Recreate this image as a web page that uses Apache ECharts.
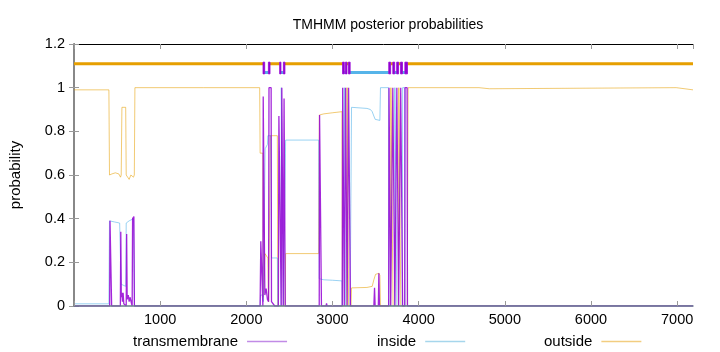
<!DOCTYPE html>
<html>
<head>
<meta charset="utf-8">
<script src="https://cdn.jsdelivr.net/npm/echarts@6/dist/echarts.min.js"></script>
<style>html,body{margin:0;padding:0;background:#fff}#c{width:720px;height:352px}</style>
</head>
<body>
<div id="c"></div>
<script>
// ---- data (residue position, probability) ----
const seqLength = 7184;
const xTicks = [1000, 2000, 3000, 4000, 5000, 6000, 7000];
const yTicks = [0, 0.2, 0.4, 0.6, 0.8, 1, 1.2];
const seriesNames = ['transmembrane', 'inside', 'outside'];

const transmembraneProb = [
  [1,0],[414,0],[418,0.39],[432,0.395],[437,0],[538,0],[543,0.34],[549,0.04],[556,0.06],[562,0.02],
  [570,0.06],[578,0.01],[606,0],[611,0.33],[617,0.03],[630,0.05],[640,0.02],[650,0.04],[675,0],
  [680,0.40],[695,0.41],[701,0],
  [2160,0],[2168,0.296],[2186,0.29],[2192,0],[2196,0.96],[2211,0.96],[2215,0.05],[2230,0.08],
  [2245,0.03],[2258,0.02],[2263,1.0],[2288,1.0],[2292,0.02],[2330,0],[2372,0],[2378,0.87],
  [2400,0.87],[2405,0],[2408,0],[2412,1.0],[2424,1.0],[2428,0],[2434,0],[2438,0.95],[2447,0.95],[2452,0],
  [2846,0],[2850,0.875],[2868,0.875],[2872,0],[2925,0],[2931,0.012],[2937,0],
  [3113,0],[3118,1.0],[3133,1.0],[3137,0],[3148,0],[3152,1.0],[3166,1.0],[3170,0],[3183,0],
  [3187,1.0],[3203,1.0],[3208,0],
  [3480,0],[3488,0.083],[3495,0],[3532,0],[3538,0.15],[3545,0],
  [3652,0],[3656,1],[3672,1],[3676,0],[3696,0],[3700,1],[3720,1],[3724,0],[3743,0],[3747,1],
  [3764,1],[3768,0],[3788,0],[3792,1],[3810,1],[3814,0],[3838,0],[3842,1],[3866,1],[3870,0],[7184,0]
];

const insideProb = [
  [1,0.01],[405,0.01],[412,0.39],[470,0.385],[530,0.38],[540,0.38],[546,0.1],[560,0.1],[600,0.09],
  [606,0.38],[640,0.39],[690,0.4],[698,0.4],[703,0],
  [2160,0],[2165,0.05],[2192,0.05],[2198,0.02],[2213,0.02],[2218,0.72],[2245,0.74],[2250,0.78],
  [2286,0.78],[2292,0.22],[2360,0.22],[2366,0],[2402,0],[2406,1.0],[2428,1.0],[2432,0],[2450,0],
  [2456,0.76],[2840,0.76],[2846,0.125],[2900,0.12],[3000,0.118],[3110,0.115],[3115,0],[3133,0],
  [3137,1.0],[3148,1.0],[3152,0],[3205,0],[3221,0.91],[3400,0.905],[3440,0.9],[3461,0.89],
  [3480,0.87],[3495,0.855],[3550,0.85],[3557,1.0],[3650,1.0],[3655,0],[3720,0],[3724,1],[3743,1],
  [3747,0],[3810,0],[3814,1],[3838,1],[3842,0],[3880,0],[7184,0]
];

const outsideProb = [
  [1,0.99],[405,0.99],[412,0.6],[440,0.605],[480,0.61],[520,0.605],[540,0.59],[548,0.6],[556,0.91],
  [600,0.91],[606,0.6],[625,0.6],[640,0.58],[660,0.6],[690,0.59],[700,0.6],[707,1.0],[1500,1.0],
  [2155,1.0],[2160,0.70],[2192,0.70],[2198,0.04],[2213,0.04],[2216,0.24],[2250,0.22],[2258,0.02],
  [2275,0.02],[2280,0.78],[2360,0.78],[2366,0],[2450,0],[2456,0.24],[2840,0.24],[2848,0.875],
  [2900,0.88],[3000,0.885],[3110,0.89],[3115,0],[3166,0],[3170,1.0],[3183,1.0],[3187,0],[3215,0],
  [3221,0.083],[3400,0.085],[3461,0.09],[3480,0.12],[3500,0.145],[3540,0.15],[3550,0.14],[3557,0],
  [3672,0],[3678,1],[3697,1],[3703,0],[3764,0],[3770,1],[3787,1],[3793,0],[3868,0],[3878,1.0],
  [4700,1.0],[4720,0.995],[4820,0.995],[4840,1.0],[6990,1.0],[7000,0.993],[7184,0.99]
];

// predicted topology segments [start, end]
const topoOutside = [[0,2194],[2275,2387],[2448,3117],[3168,3185],[3675,3700],[3767,3790],[3870,7184]];
const topoInside = [[2213,2256],[2402,2430],[3137,3150],[3205,3653],[3722,3745],[3812,3840]];
const topoTM = [[2194,2213],[2256,2275],[2387,2402],[2430,2448],[3117,3137],[3150,3168],[3185,3205],
  [3653,3675],[3700,3722],[3745,3767],[3790,3812],[3840,3870]];
const topoOutsideLevel = 1.11;
const topoInsideLevel = 1.07;

// ---- build ----
function segLine(segs, y) {
  const out = [];
  segs.forEach(s => { out.push([s[0], y], [s[1], y], [s[1], '-']); });
  return out;
}
const FONT = 'Liberation Sans, Arial, sans-serif';
const C_TM = '#9400D3', C_IN = '#56B4E9', C_OUT = '#E69F00';

const chart = echarts.init(document.getElementById('c'), null, {renderer: 'canvas'});
const axisCommon = {
  type: 'value', min: 0, max: seqLength, interval: 1000,
  splitLine: {show: false},
  axisTick: {show: true, inside: true, length: 5, lineStyle: {color: '#999'}},
};
const legendCommon = {
  top: 334, align: 'right', itemWidth: 40, itemHeight: 1.5, icon: 'rect', padding: 0,
  textStyle: {fontFamily: FONT, fontSize: 15, color: '#000', padding: [0, 4, 0, 0]},
  selectedMode: false
};
chart.setOption({
  animation: false,
  backgroundColor: '#fff',
  title: {
    text: 'TMHMM posterior probabilities', left: 383, top: 13, textAlign: 'center',
    textStyle: {fontFamily: FONT, fontSize: 14, fontWeight: 'normal', color: '#000'}
  },
  grid: {left: 73, right: 27, top: 44, bottom: 46, containLabel: false},
  legend: [
    Object.assign({}, legendCommon, {left: 133, data: [{name: seriesNames[0], itemStyle: {color: '#c18be6'}}]}),
    Object.assign({}, legendCommon, {left: 377, data: [{name: seriesNames[1], itemStyle: {color: '#a6d6ec'}}]}),
    Object.assign({}, legendCommon, {left: 544, data: [{name: seriesNames[2], itemStyle: {color: '#f2cd80'}}]})
  ],
  xAxis: [
    Object.assign({}, axisCommon, {
      position: 'bottom', z: 10,
      axisLine: {show: true, onZero: false, lineStyle: {color: '#6a7e8c', width: 1.5}},
      axisLabel: {
        fontFamily: FONT, fontSize: 14.5, color: '#000', margin: 6, showMaxLabel: false,
        formatter: v => (v > 0 && xTicks.indexOf(v) >= 0) ? String(v) : ''
      }
    }),
    Object.assign({}, axisCommon, {
      position: 'top', axisLabel: {show: false},
      axisLine: {show: true, onZero: false, lineStyle: {color: '#000', width: 1}}
    })
  ],
  yAxis: [
    {
      type: 'value', min: yTicks[0], max: yTicks[yTicks.length - 1], interval: 0.2, position: 'left',
      name: 'probability', nameLocation: 'middle', nameGap: 51,
      nameTextStyle: {fontFamily: FONT, fontSize: 15, color: '#000'},
      splitLine: {show: false},
      axisLine: {show: true, lineStyle: {color: '#000'}},
      axisTick: {show: true, inside: true, length: 5, lineStyle: {color: '#999'}},
      axisLabel: {fontFamily: FONT, fontSize: 14.5, color: '#000', margin: 9}
    },
    {
      type: 'value', min: yTicks[0], max: yTicks[yTicks.length - 1], interval: 0.2, position: 'right',
      splitLine: {show: false},
      axisLine: {show: true, lineStyle: {color: '#888', width: 2}},
      axisTick: {show: true, inside: true, length: 5, lineStyle: {color: '#999'}},
      axisLabel: {show: false}
    }
  ],
  series: [
    {name: 'outside', type: 'line', data: outsideProb, symbol: 'none', z: 3,
     lineStyle: {color: C_OUT, width: 1, opacity: 0.55}, itemStyle: {color: C_OUT}},
    {name: 'inside', type: 'line', data: insideProb, symbol: 'none', z: 4,
     lineStyle: {color: C_IN, width: 1, opacity: 0.6}, itemStyle: {color: C_IN}},
    {name: 'transmembrane', type: 'line', data: transmembraneProb, symbol: 'none', z: 5,
     lineStyle: {color: C_TM, width: 1.3, opacity: 0.85}, itemStyle: {color: C_TM}},
    {name: 'topo-outside', type: 'line', data: segLine(topoOutside, topoOutsideLevel), symbol: 'none',
     connectNulls: false, z: 6, lineStyle: {color: C_OUT, width: 3}},
    {name: 'topo-inside', type: 'line', data: segLine(topoInside, topoInsideLevel), symbol: 'none',
     connectNulls: false, z: 6, lineStyle: {color: C_IN, width: 3}},
    {name: 'topo-tm', type: 'custom', z: 7, data: topoTM,
     encode: {x: [0, 1]},
     renderItem: (params, api) => {
       const a = api.coord([api.value(0), topoOutsideLevel]);
       const b = api.coord([api.value(1), topoInsideLevel]);
       return {type: 'rect', shape: {x: a[0], y: a[1] - 1.5, width: Math.max(b[0] - a[0], 1), height: b[1] - a[1] + 3},
               style: {fill: C_TM, stroke: C_TM, lineWidth: 0.8}};
     }}
  ]
});
</script>
</body>
</html>
